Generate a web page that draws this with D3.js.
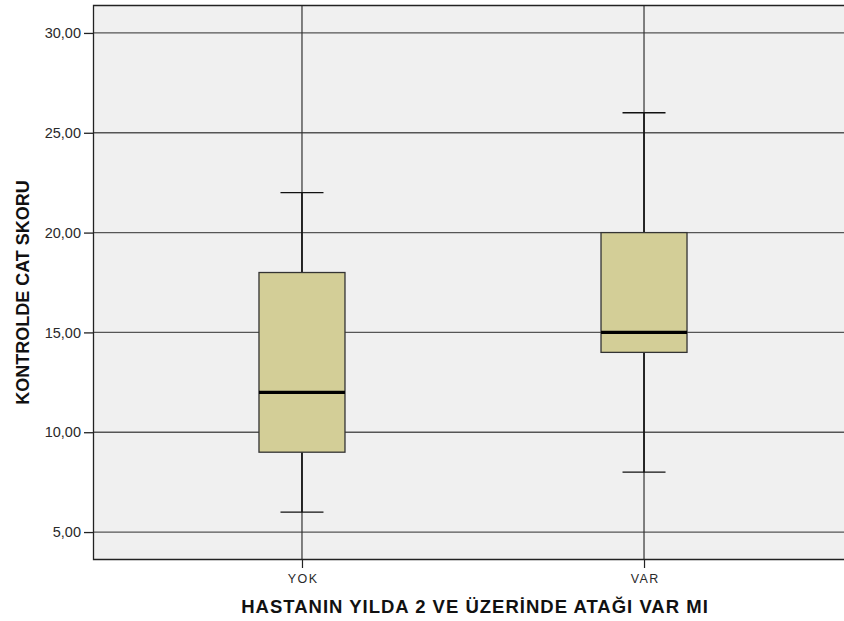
<!DOCTYPE html>
<html>
<head>
<meta charset="utf-8">
<script src="https://cdn.jsdelivr.net/npm/d3@7/dist/d3.min.js"></script>
<style>
  html, body { margin: 0; padding: 0; background: #fff; }
  svg { display: block; }
  text { font-family: "Liberation Sans", Arial, sans-serif; }
</style>
</head>
<body>
<svg id="chart" width="844" height="621"></svg>
<script>
// Groups and their five-number summaries (min, Q1, median, Q3, max)
const categories = ["YOK", "VAR"];
const whiskerLow  = [6, 8];
const quartile1   = [9, 14];
const medians     = [12, 15];
const quartile3   = [18, 20];
const whiskerHigh = [22, 26];
const yTicks = [5, 10, 15, 20, 25, 30];

const xTitle = "HASTANIN YILDA 2 VE ÜZERİNDE ATAĞI VAR MI";
const yTitle = "KONTROLDE CAT SKORU";

const svg = d3.select("#chart");
const plot = { left: 93, top: 5, right: 853, bottom: 560 };

const x = d3.scalePoint()
  .domain(categories)
  .range([plot.left, plot.right])
  .padding(0.611);

const y = d3.scaleLinear()
  .domain([3.6, 31.4])
  .range([plot.bottom, plot.top]);

const boxWidth = 86;
const capWidth = 43;
const fmt = v => d3.format(".2f")(v).replace(".", ",");

// plot background
svg.append("rect")
  .attr("x", plot.left).attr("y", plot.top)
  .attr("width", plot.right - plot.left).attr("height", plot.bottom - plot.top)
  .attr("fill", "#f0f0f0");

// horizontal grid lines at the y ticks
svg.append("g").selectAll("line").data(yTicks).join("line")
  .attr("x1", plot.left).attr("x2", plot.right)
  .attr("y1", d => y(d)).attr("y2", d => y(d))
  .attr("stroke", "#555").attr("stroke-width", 1.3);

// vertical lines through each category
svg.append("g").selectAll("line").data(categories).join("line")
  .attr("x1", d => x(d)).attr("x2", d => x(d))
  .attr("y1", plot.top).attr("y2", plot.bottom)
  .attr("stroke", "#333").attr("stroke-width", 1.2);

// frame: left, top, bottom
svg.append("path")
  .attr("d", `M${plot.right},${plot.top + 0.5}H${plot.left + 0.5}V${plot.bottom - 0.5}H${plot.right}`)
  .attr("fill", "none").attr("stroke", "#222").attr("stroke-width", 1.3);

// y axis
const yAxis = d3.axisLeft(y).tickValues(yTicks).tickFormat(fmt).tickSize(9).tickPadding(3);
const gy = svg.append("g").attr("transform", `translate(${plot.left},0)`).call(yAxis);
gy.select(".domain").remove();
gy.selectAll(".tick line").attr("stroke", "#222").attr("stroke-width", 1.3);
gy.selectAll(".tick text").attr("fill", "#2a2a2a").style("font-size", "14.5px");

// x axis
const xAxis = d3.axisBottom(x).tickSize(8).tickPadding(6);
const gx = svg.append("g").attr("transform", `translate(0,${plot.bottom})`).call(xAxis);
gx.select(".domain").remove();
gx.selectAll(".tick line").attr("stroke", "#222").attr("stroke-width", 1.2);
gx.selectAll(".tick text").attr("fill", "#2a2a2a")
  .style("font-size", "12.5px").style("letter-spacing", "1.5px")
  .attr("dx", "0.75px");

// boxes
const boxes = svg.append("g").selectAll("g").data(categories).join("g");

boxes.append("line")
  .attr("x1", d => x(d)).attr("x2", d => x(d))
  .attr("y1", (d, i) => y(whiskerHigh[i])).attr("y2", (d, i) => y(quartile3[i]))
  .attr("stroke", "#111").attr("stroke-width", 1.6);
boxes.append("line")
  .attr("x1", d => x(d)).attr("x2", d => x(d))
  .attr("y1", (d, i) => y(quartile1[i])).attr("y2", (d, i) => y(whiskerLow[i]))
  .attr("stroke", "#111").attr("stroke-width", 1.6);

[whiskerHigh, whiskerLow].forEach(arr => {
  boxes.append("line")
    .attr("x1", d => x(d) - capWidth / 2).attr("x2", d => x(d) + capWidth / 2)
    .attr("y1", (d, i) => y(arr[i])).attr("y2", (d, i) => y(arr[i]))
    .attr("stroke", "#111").attr("stroke-width", 1.4);
});

boxes.append("rect")
  .attr("x", d => x(d) - boxWidth / 2)
  .attr("width", boxWidth)
  .attr("y", (d, i) => y(quartile3[i]))
  .attr("height", (d, i) => y(quartile1[i]) - y(quartile3[i]))
  .attr("fill", "#d3ce97").attr("stroke", "#333").attr("stroke-width", 1.3);

boxes.append("line")
  .attr("x1", d => x(d) - boxWidth / 2).attr("x2", d => x(d) + boxWidth / 2)
  .attr("y1", (d, i) => y(medians[i])).attr("y2", (d, i) => y(medians[i]))
  .attr("stroke", "#000").attr("stroke-width", 3.2);

// axis titles
svg.append("text")
  .attr("x", 475).attr("y", 613)
  .attr("text-anchor", "middle")
  .attr("font-weight", "bold").attr("font-size", "18.5px").attr("fill", "#111")
  .style("letter-spacing", "1px")
  .text(xTitle);

svg.append("text")
  .attr("transform", `translate(29,${(183 + 402) / 2}) rotate(-90)`)
  .attr("text-anchor", "middle")
  .attr("font-weight", "bold").attr("font-size", "18px").attr("fill", "#111")
  .text(yTitle);
</script>
</body>
</html>
